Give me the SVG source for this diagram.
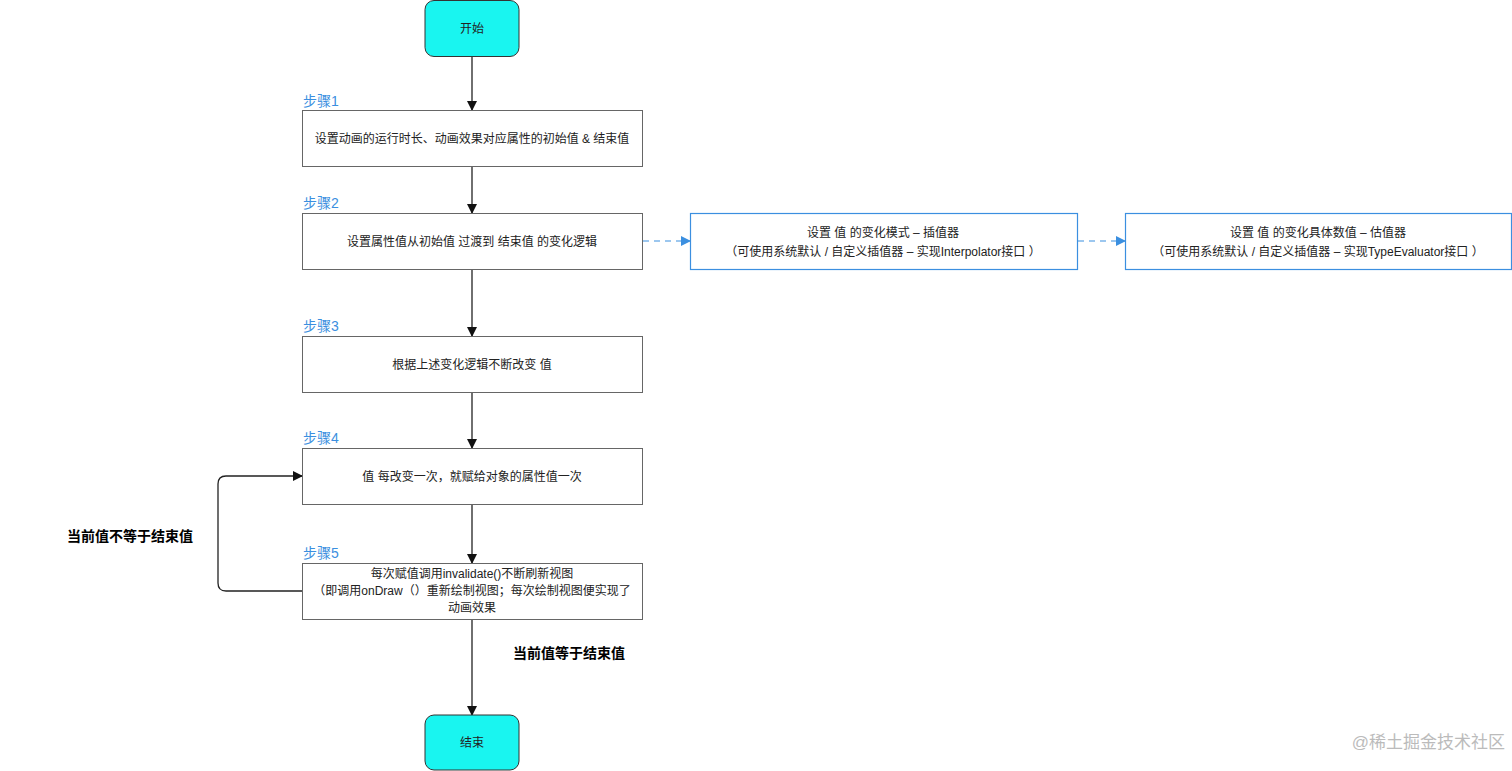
<svg xmlns="http://www.w3.org/2000/svg" width="1512" height="771" viewBox="0 0 1512 771">
<style>
text{font-family:"Liberation Sans","Noto Sans CJK SC",sans-serif;font-size:12px;fill:#222;text-anchor:middle}
.box{fill:#fff;stroke:#666;stroke-width:1}
.blue{fill:#fff;stroke:#3b8fe0;stroke-width:1.2}
.term{fill:#19f5f0;stroke:#333;stroke-width:1}
.step{fill:#3b8fe0;font-size:14px;text-anchor:start}
.lbl{font-size:14px;font-weight:bold;fill:#000}
.c{fill:none;stroke:#222;stroke-width:1.3}
.d{fill:none;stroke:#3b8fe0;stroke-width:1.2;stroke-dasharray:6 5}
</style>
<defs>
<marker id="a" markerWidth="10" markerHeight="10" refX="9" refY="5" orient="auto" markerUnits="userSpaceOnUse"><path d="M0,0 L10,5 L0,10 Z" fill="#111"/></marker>
<marker id="b" markerWidth="10" markerHeight="10" refX="9" refY="5" orient="auto" markerUnits="userSpaceOnUse"><path d="M0,0 L10,5 L0,10 Z" fill="#3b8fe0"/></marker>
</defs>
<rect width="1512" height="771" fill="#fff"/>
<g id="connectors">
<path class="c" d="M472,56 V110" marker-end="url(#a)"/>
<path class="c" d="M472,167 V213" marker-end="url(#a)"/>
<path class="c" d="M472,269 V336" marker-end="url(#a)"/>
<path class="c" d="M472,392 V448" marker-end="url(#a)"/>
<path class="c" d="M472,504 V563" marker-end="url(#a)"/>
<path class="c" d="M472,619 V715" marker-end="url(#a)"/>
<path class="c" d="M302,591 H226 Q218,591 218,583 V484 Q218,476 226,476 H302" marker-end="url(#a)"/>
<path class="d" d="M643,241 H690" marker-end="url(#b)"/>
<path class="d" d="M1078,241 H1125" marker-end="url(#b)"/>
<text class="lbl" x="130" y="541">当前值不等于结束值</text>
<text class="lbl" x="569" y="658">当前值等于结束值</text>
</g>
<g id="start"><rect class="term" x="425" y="0.5" width="94" height="56" rx="9"/><text x="472" y="33">开始</text></g>
<g id="step1"><text class="step" x="303" y="106">步骤1</text><rect class="box" x="302.5" y="110.5" width="340" height="56"/><text x="472" y="143">设置动画的运行时长、动画效果对应属性的初始值 &amp; 结束值</text></g>
<g id="step2"><text class="step" x="303" y="208">步骤2</text><rect class="box" x="302.5" y="213.5" width="340" height="56"/><text x="472" y="246">设置属性值从初始值 过渡到 结束值 的变化逻辑</text></g>
<g id="interp"><rect class="blue" x="690.5" y="213.5" width="387" height="56"/><text x="883" y="237">设置 值 的变化模式 – 插值器</text><text x="883" y="256">（可使用系统默认 / 自定义插值器 – 实现Interpolator接口 ）</text></g>
<g id="eval"><rect class="blue" x="1125.5" y="213.5" width="386" height="56"/><text x="1318" y="237">设置 值 的变化具体数值 – 估值器</text><text x="1318" y="256">（可使用系统默认 / 自定义插值器 – 实现TypeEvaluator接口 ）</text></g>
<g id="step3"><text class="step" x="303" y="331">步骤3</text><rect class="box" x="302.5" y="336.5" width="340" height="56"/><text x="472" y="369">根据上述变化逻辑不断改变 值</text></g>
<g id="step4"><text class="step" x="303" y="443">步骤4</text><rect class="box" x="302.5" y="448.5" width="340" height="56"/><text x="472" y="481">值 每改变一次，就赋给对象的属性值一次</text></g>
<g id="step5"><text class="step" x="303" y="558">步骤5</text><rect class="box" x="302.5" y="563.5" width="340" height="56"/><text x="472" y="578">每次赋值调用invalidate()不断刷新视图</text><text x="472" y="595">（即调用onDraw（）重新绘制视图；每次绘制视图便实现了</text><text x="472" y="612">动画效果</text></g>
<g id="end"><rect class="term" x="425" y="715" width="94" height="55" rx="9"/><text x="472" y="747">结束</text></g>
<text x="1505" y="748" style="text-anchor:end;font-size:17px;fill:#bbb">@稀土掘金技术社区</text>
</svg>
